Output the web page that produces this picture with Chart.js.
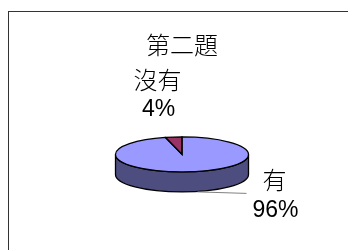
<!DOCTYPE html>
<html>
<head>
<meta charset="utf-8">
<script src="https://cdn.jsdelivr.net/npm/chart.js@4"></script>
<style>
  html,body{margin:0;padding:0;background:#fff;overflow:hidden}
  #wrap{position:relative;width:348px;height:250px}
  #frame{position:absolute;left:8px;top:11px;width:400px;height:300px;border:1px solid #333}
  #c{position:absolute;left:0;top:0}
</style>
</head>
<body>
<div id="wrap">
  <div id="frame"></div>
  <canvas id="c" width="348" height="250"></canvas>
</div>
<script>
// 第二題 - answers
const categories = ['有', '沒有'];
const values = [96, 4];
const colors = ['#9999FF', '#993366'];

// 3d look
const FLAT = 17.5 / 66.5;   // vertical squash of the top face
const DEPTH = 20;
const CJK = '"Noto Sans CJK TC", "Noto Sans CJK SC", sans-serif';
const LATIN = '"Liberation Sans", Arial, sans-serif';
// label places, relative to the pie centre (top face)
const labelPos = [
  { dx: 92.5, catY: 25.5, pctY: 56.5, line: [[15.5, 37.5], [64.5, 39]] },
  { dx: -24.5, catY: -74.5, pctY: -44.5, line: null }
];

function darken(hex, f){
  const n = parseInt(hex.slice(1), 16);
  const r = Math.round((n >> 16 & 255) * f), g = Math.round((n >> 8 & 255) * f), b = Math.round((n & 255) * f);
  return `rgb(${r},${g},${b})`;
}

// visible (front) part of an arc: angles between 0 and PI
function frontPart(a, b){
  const out = [];
  for(let k = -1; k <= 1; k++){
    const lo = Math.max(a, 2 * Math.PI * k), hi = Math.min(b, Math.PI + 2 * Math.PI * k);
    if(hi > lo) out.push([lo, hi]);
  }
  return out;
}

const pie3d = {
  id: 'pie3d',
  beforeDatasetsDraw(chart){
    const ctx = chart.ctx;
    const arcs = chart.getDatasetMeta(0).data;
    ctx.save();
    ctx.lineWidth = 1.3;
    ctx.strokeStyle = '#000';
    arcs.forEach((arc, i) => {
      const rx = arc.outerRadius, ry = rx * FLAT;
      frontPart(arc.startAngle, arc.endAngle).forEach(([a, b]) => {
        ctx.beginPath();
        ctx.ellipse(arc.x, arc.y, rx, ry, 0, a, b);
        ctx.ellipse(arc.x, arc.y + DEPTH, rx, ry, 0, b, a, true);
        ctx.closePath();
        ctx.fillStyle = darken(colors[i], 0.5);
        ctx.fill();
        ctx.stroke();
      });
    });
    ctx.restore();
    // squash the library's own pie into the top face
    const a0 = arcs[0];
    ctx.save();
    ctx.translate(a0.x, a0.y);
    ctx.scale(1, FLAT);
    ctx.translate(-a0.x, -a0.y);
  },
  afterDatasetsDraw(chart){
    const ctx = chart.ctx;
    ctx.restore();
    const arcs = chart.getDatasetMeta(0).data;
    ctx.save();
    ctx.lineWidth = 1.3;
    ctx.strokeStyle = '#000';
    arcs.forEach(arc => {
      const rx = arc.outerRadius, ry = rx * FLAT;
      ctx.beginPath();
      ctx.moveTo(arc.x, arc.y);
      ctx.ellipse(arc.x, arc.y, rx, ry, 0, arc.startAngle, arc.endAngle);
      ctx.closePath();
      ctx.stroke();
    });
    // labels
    const total = values.reduce((s, v) => s + v, 0);
    ctx.fillStyle = '#000';
    ctx.textAlign = 'center';
    ctx.textBaseline = 'middle';
    arcs.forEach((arc, i) => {
      const p = labelPos[i];
      const x = arc.x + p.dx;
      ctx.font = '300 24px ' + CJK;
      ctx.fillText(categories[i], x, arc.y + p.catY);
      ctx.font = '23px ' + LATIN;
      ctx.fillText(Math.round(values[i] / total * 100) + '%', x + 1, arc.y + p.pctY);
      if(p.line){
        ctx.beginPath();
        ctx.strokeStyle = '#808080';
        ctx.lineWidth = 1;
        ctx.moveTo(arc.x + p.line[0][0], arc.y + p.line[0][1]);
        ctx.lineTo(arc.x + p.line[1][0], arc.y + p.line[1][1]);
        ctx.stroke();
      }
    });
    ctx.restore();
  }
};

new Chart(document.getElementById('c').getContext('2d'), {
  type: 'pie',
  data: {
    labels: categories,
    datasets: [{ data: values, backgroundColor: colors, borderWidth: 0, radius: 66.5 }]
  },
  options: {
    responsive: false,
    animation: false,
    events: [],
    layout: { padding: { top: 20, bottom: 10, left: 16, right: 0 } },
    plugins: {
      legend: { display: false },
      tooltip: { enabled: false },
      title: {
        display: true,
        text: '第二題',
        color: '#000',
        font: { family: CJK, size: 24, weight: '300', lineHeight: 1.2 },
        padding: { top: 10, bottom: 10 }
      }
    }
  },
  plugins: [pie3d]
});
</script>
</body>
</html>
